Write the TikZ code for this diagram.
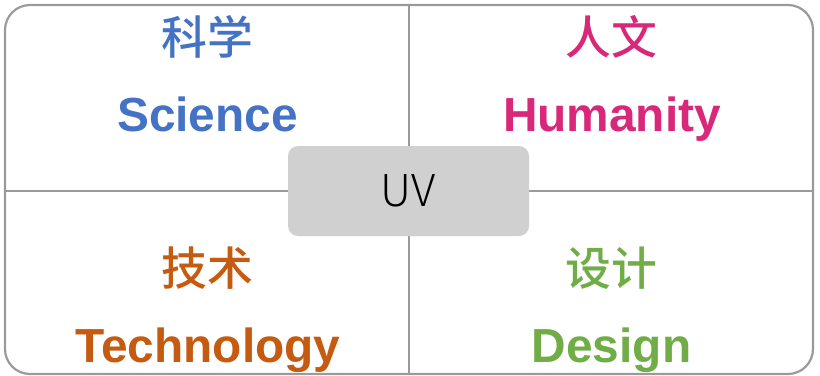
\documentclass[tikz,border=0pt]{standalone}
\usepackage{xcolor}
\usepackage{fontspec}
\setmainfont{Liberation Sans}
\newfontfamily\cjk{Noto Sans CJK SC Medium}
\newfontfamily\cjklight{Noto Sans CJK SC Light}
\usetikzlibrary{positioning}
\definecolor{sciblue}{HTML}{4472C4}
\definecolor{humpink}{HTML}{D9287A}
\definecolor{techorange}{HTML}{C55A11}
\definecolor{desgreen}{HTML}{70AD47}
\definecolor{framegray}{HTML}{9A9A9A}
\definecolor{uvgray}{HTML}{D0D0D0}

\begin{document}
\begin{tikzpicture}[x=1bp,y=-1bp]
 				 \tikzstyle{zh}=[inner sep=0pt,font=\cjk\fontsize{46}{48}\selectfont]
 				 \tikzstyle{en}=[inner sep=0pt,anchor=base,font=\bfseries\fontsize{48}{50}\selectfont]
						\useasboundingbox (0,0) rectangle (820,375);
						\coordinate (TL) at (5,5);
						\coordinate (BR) at (813,374);
						\coordinate (top) at (409,5);
						\coordinate (bot) at (409,374);
						\coordinate (left) at (5,191);
						\coordinate (right) at (813,191);
						
						\draw[framegray,line width=2.2bp,rounded corners=25bp] (TL) rectangle (BR);
						\draw[framegray,line width=2.2bp] (top) -- (bot);
						\draw[framegray,line width=2.2bp] (left) -- (right);
						
						\node[zh,text=sciblue] (kexue) at (207,37) {科学};
						\node[en,text=sciblue] (sci) at (207.5,131) {Science};
						\node[zh,text=humpink] (renwen) at (611,37) {人文};
						\node[en,text=humpink] (hum) at (612,131) {Humanity};
						\node[zh,text=techorange] (jishu) at (207,268) {技术};
						\node[en,text=techorange] (tech) at (208,362) {Technology};
						\node[zh,text=desgreen] (sheji) at (611.5,268) {设计};
						\node[en,text=desgreen] (des) at (611.5,362) {Design};
						
						\node[fill=uvgray,rounded corners=10bp,minimum width=241bp,minimum height=90bp,
							font=\cjklight\fontsize{44}{46}\selectfont] (uv) at (408.5,191) {UV};
 				\end{tikzpicture}
\end{document}
